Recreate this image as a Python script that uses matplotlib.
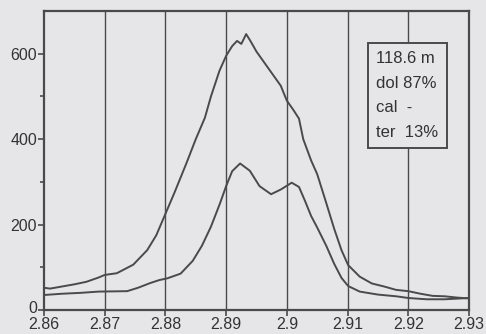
import matplotlib
matplotlib.use("Agg")
import matplotlib.pyplot as plt
import matplotlib.transforms as mtransforms

# Upper curve (total)
x_upper = [2.860, 2.861, 2.863, 2.865, 2.867, 2.869, 2.870, 2.872, 2.8747, 2.877,
           2.8785, 2.880, 2.8815, 2.8835, 2.885, 2.8865, 2.8875, 2.8889, 2.890, 2.891,
           2.8918, 2.8925, 2.8933, 2.894, 2.895, 2.8965, 2.898, 2.899, 2.900, 2.901,
           2.902, 2.9027, 2.904, 2.905, 2.9065, 2.9078, 2.909, 2.9101, 2.912, 2.914,
           2.916, 2.918, 2.920, 2.922, 2.924, 2.926, 2.928, 2.930]
y_upper = [52, 50, 55, 60, 66, 76, 82, 86, 106, 140,
           175, 225, 275, 345, 400, 450, 500, 560, 595, 618,
           630, 623, 646, 630, 605, 575, 545, 525, 490, 470,
           448, 400, 350, 318, 250, 190, 140, 105, 78, 62,
           55, 47, 44, 38, 33, 32, 29, 27]

# Lower curve
x_lower = [2.860, 2.863, 2.866, 2.869, 2.8737, 2.8755, 2.8775, 2.879, 2.8803, 2.8825,
           2.8845, 2.886, 2.8875, 2.889, 2.890, 2.891, 2.8923, 2.8939, 2.8955, 2.8974,
           2.899, 2.9008, 2.902, 2.903, 2.904, 2.905, 2.9065, 2.9078, 2.909, 2.9101,
           2.912, 2.915, 2.918, 2.920, 2.923, 2.926, 2.930]
y_lower = [35, 38, 40, 43, 44, 52, 63, 70, 74, 85,
           115, 150, 195, 250, 290, 325, 343, 326, 290, 271,
           282, 298, 288, 255, 220, 193, 150, 108, 75, 56,
           43, 36, 32, 28, 25, 25, 28]

xticks = [2.86, 2.87, 2.88, 2.89, 2.9, 2.91, 2.92, 2.93]
xtick_labels = ["2.86", "2.87", "2.88", "2.89", "2.9", "2.91", "2.92", "2.93"]
yticks = [0, 200, 400, 600]
legend_lines = ["118.6 m", "dol 87%", "cal  -", "ter  13%"]

bg = "#e6e6e8"
ink = "#4a4a4a"

plt.rcParams['font.family'] = ['Liberation Sans', 'DejaVu Sans']

fig = plt.figure(figsize=(4.86, 3.34), dpi=100, facecolor=bg)
ax = fig.add_axes([0.0905, 0.072, 0.8745, 0.895])
ax.set_facecolor(bg)

for xv in xticks[1:-1]:
    ax.axvline(xv, color=ink, lw=1.0, zorder=1)

ax.plot(x_upper, y_upper, color=ink, lw=1.4, zorder=2)
ax.plot(x_lower, y_lower, color=ink, lw=1.4, zorder=2)

ax.set_xlim(2.86, 2.93)
ax.set_ylim(0, 700)
ax.set_xticks(xticks)
ax.set_xticklabels(xtick_labels)
ax.set_yticks(yticks)
ax.set_yticks([100, 300, 500], minor=True)
ax.tick_params(axis='both', direction='out', length=4, width=1.2, color=ink,
               labelsize=11.5, labelcolor="#333333", pad=1)
ax.tick_params(axis='y', which='minor', length=3, width=1.2, color=ink)
for s in ax.spines.values():
    s.set_color(ink)
    s.set_linewidth(1.6)

# nudge the "0" label up slightly so it does not collide with "2.86"
zero_lbl = ax.get_yticklabels()[0]
zero_lbl.set_transform(zero_lbl.get_transform() +
                       mtransforms.ScaledTranslation(0, 3 / 100, fig.dpi_scale_trans))

# Legend box
ax.text(0.782, 0.866, "\n".join(legend_lines), transform=ax.transAxes,
        ha='left', va='top', fontsize=12, color="#333333", linespacing=1.8,
        zorder=5,
        bbox=dict(boxstyle='square,pad=0.5', facecolor=bg, edgecolor=ink, linewidth=1.4))

fig.savefig("out.png", dpi=100, facecolor=bg)
